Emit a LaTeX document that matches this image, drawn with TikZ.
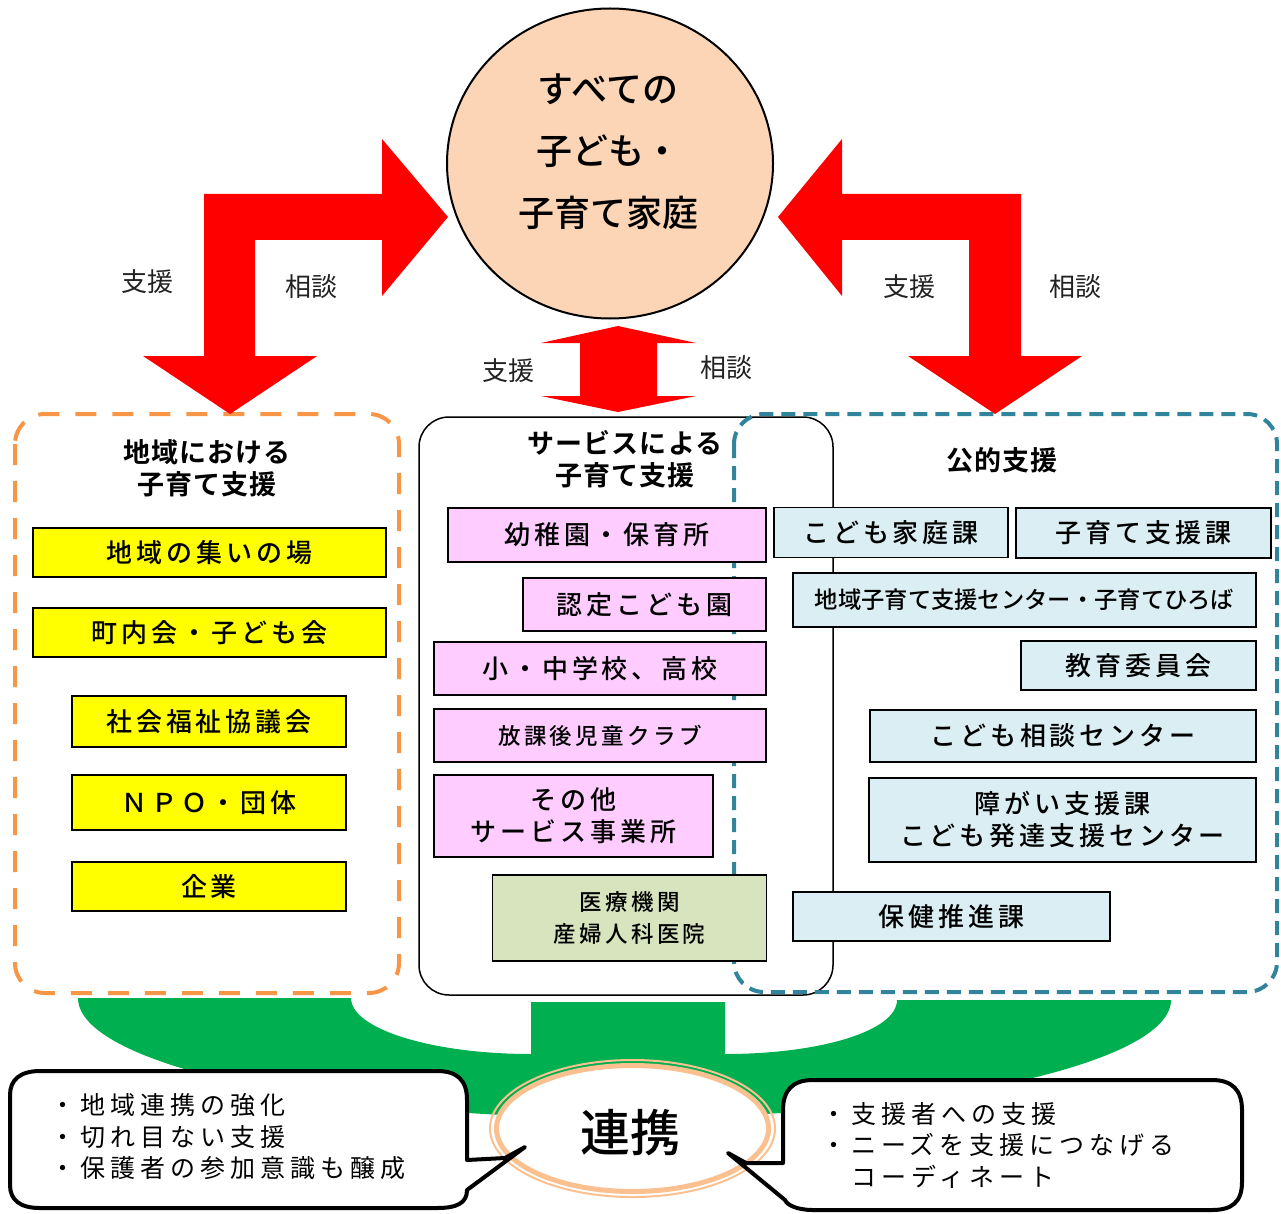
\documentclass[tikz,border=0pt]{standalone}
\usepackage{fontspec}
\usetikzlibrary{shapes.geometric}
\IfFontExistsTF{Noto Sans CJK JP Bold}{\newfontfamily\jpB{Noto Sans CJK JP Bold}[LetterSpace=4]}{\newfontfamily\jpB{Noto Sans CJK JP}[FakeBold=2,LetterSpace=4]}
\IfFontExistsTF{Noto Sans CJK JP Medium}{\newfontfamily\jpM{Noto Sans CJK JP Medium}[LetterSpace=15]\newfontfamily\jpMn{Noto Sans CJK JP Medium}}{\newfontfamily\jpM{Noto Sans CJK JP}[FakeBold=1,LetterSpace=15]\newfontfamily\jpMn{Noto Sans CJK JP}[FakeBold=1]}
\newfontfamily\jpR{Noto Sans CJK JP}
\newfontfamily\jpRs{Noto Sans CJK JP}[LetterSpace=20]
\newcommand\fsBox{\jpM\fontsize{26}{32}\selectfont}
\newcommand\fsSmall{\jpM\fontsize{22.5}{32}\selectfont}
\newcommand\fsTitle{\jpB\fontsize{27}{32}\selectfont}
\newcommand\fsCircle{\jpMn\fontsize{36}{62}\selectfont}
\newcommand\fsLabel{\jpR\fontsize{26}{30}\selectfont}
\newcommand\fsCall{\jpRs\fontsize{25}{31.5}\selectfont}
\newcommand\fsRenkei{\jpMn\fontsize{50}{60}\selectfont}
\definecolor{peach}{HTML}{FBD5B5}
\definecolor{arrowred}{HTML}{FF0000}
\definecolor{dorange}{HTML}{F79646}
\definecolor{tealbox}{HTML}{31849B}
\definecolor{ylw}{HTML}{FFFF00}
\definecolor{pinkbox}{HTML}{FFCCFF}
\definecolor{bluebox}{HTML}{DAEEF3}
\definecolor{olivebox}{HTML}{D7E4BD}
\definecolor{grn}{HTML}{00B050}
\definecolor{ringor}{HTML}{FAC090}
\definecolor{lbl}{HTML}{222222}
\tikzset{
  abox/.style={draw=black, line width=1.6, inner sep=0, align=center, font=\fsBox},
  ybox/.style={abox, fill=ylw},
  pbox/.style={abox, fill=pinkbox},
  bbox/.style={abox, fill=bluebox},
  obox/.style={abox, fill=olivebox},
  lbltext/.style={text=lbl, font=\fsLabel, inner sep=0},
  ttl/.style={font=\fsTitle, align=center, inner sep=0},
  redarrow/.style={fill=arrowred},
  callout/.style={draw=black, line width=4, fill=white, line join=round},
}
\begin{document}
\begin{tikzpicture}[x=1pt,y=-1pt]
\useasboundingbox (0,0) rectangle (1281,1214);

% green merge shape
\fill[grn] (78,998) -- (351,998)
  .. controls (351,1029) and (432,1054) .. (531,1054)
  -- (531,1002) -- (725,1002) -- (725,1054)
  .. controls (820,1054) and (897,1031) .. (897,1000)
  -- (1171,1000)
  .. controls (1171,1064) and (926,1118) .. (624.5,1118)
  .. controls (323,1118) and (78,1064) .. (78,998) -- cycle;

% region frames
\draw[dorange, line width=4, dash pattern=on 21 off 16, rounded corners=30] (15,414) rectangle (399,993);
\draw[black, line width=1.5, rounded corners=30] (419,417) rectangle (833,995);
\draw[tealbox, line width=4, dash pattern=on 14 off 8, rounded corners=30] (734,414) rectangle (1277,992);

% central circle
\node[ellipse, draw=black, line width=2, fill=peach, minimum width=326, minimum height=310, inner sep=0] (fam) at (610,163.5) {};
\node[font=\fsCircle, align=center, inner sep=0] (famtext) at (608,152) {すべての\\子ども・\\子育て家庭};

% red arrows
\fill[redarrow] (448,217) -- (382,139) -- (382,194) -- (204,194) -- (204,356) -- (143,356) -- (230,414) -- (317,356) -- (255,356) -- (255,240) -- (382,240) -- (382,296) -- cycle;
\fill[redarrow] (778,217) -- (842,139) -- (842,194) -- (1021,194) -- (1021,356) -- (1082,356) -- (995,414) -- (908,356) -- (969,356) -- (969,240) -- (842,240) -- (842,296) -- cycle;
\fill[redarrow] (618,326) -- (696,343) -- (657,343) -- (657,396) -- (696,396) -- (618,412) -- (541,396) -- (580,396) -- (580,343) -- (541,343) -- cycle;

\node[lbltext] (l1) at (147,282) {支援};
\node[lbltext] (l2) at (311,287) {相談};
\node[lbltext] (l3) at (909,287) {支援};
\node[lbltext] (l4) at (1075,287) {相談};
\node[lbltext] (l5) at (508,371) {支援};
\node[lbltext] (l6) at (726,368) {相談};

% titles
\node[ttl] (t1) at (207,468) {地域における\\子育て支援};
\node[ttl] (t2) at (625,459) {サービスによる\\子育て支援};
\node[ttl] (t3) at (1002,460) {公的支援};

% left boxes
\node[ybox, minimum width=353, minimum height=49] (y1) at (209.5,552.5) {地域の集いの場};
\node[ybox, minimum width=353, minimum height=49] (y2) at (209.5,632.5) {町内会・子ども会};
\node[ybox, minimum width=274, minimum height=51] (y3) at (209,721.5) {社会福祉協議会};
\node[ybox, minimum width=274, minimum height=55] (y4) at (209,802.5) {ＮＰＯ・団体};
\node[ybox, minimum width=274, minimum height=49] (y5) at (209,886.5) {企業};

% middle boxes
\node[pbox, minimum width=318, minimum height=54] (p1) at (607,535) {幼稚園・保育所};
\node[pbox, minimum width=243, minimum height=53] (p2) at (644.5,604.5) {認定こども園};
\node[pbox, minimum width=332, minimum height=53] (p3) at (600,668.5) {小・中学校、高校};
\node[pbox, minimum width=332, minimum height=53, font=\fsSmall] (p4) at (600,735.5) {放課後児童クラブ};
\node[pbox, minimum width=279, minimum height=82] (p5) at (573.5,816) {その他\\サービス事業所};
\node[obox, minimum width=274, minimum height=86, font=\fsSmall] (g1) at (629.5,918) {医療機関\\産婦人科医院};

% right boxes
\node[bbox, minimum width=234, minimum height=50] (b1) at (891,532.5) {こども家庭課};
\node[bbox, minimum width=255, minimum height=50] (b2) at (1143.5,533) {子育て支援課};
\node[bbox, minimum width=463, minimum height=54, font=\jpMn\fontsize{23.3}{30}\selectfont] (b3) at (1024.5,600) {地域子育て支援センター・子育てひろば};
\node[bbox, minimum width=235, minimum height=49] (b4) at (1138.5,665.5) {教育委員会};
\node[bbox, minimum width=386, minimum height=52] (b5) at (1063,736) {こども相談センター};
\node[bbox, minimum width=387, minimum height=84] (b6) at (1062.5,820) {障がい支援課\\こども発達支援センター};
\node[bbox, minimum width=317, minimum height=49] (b7) at (951.5,916.5) {保健推進課};

% renkei ellipse
\node[ellipse, draw=ringor, line width=2, minimum width=285, minimum height=137, inner sep=0] (ring) at (632.5,1128.5) {};
\node[ellipse, draw=ringor, fill=white, line width=5, minimum width=272, minimum height=126, inner sep=0] (renkei) at (632.5,1128.5) {};
\node[font=\fsRenkei, inner sep=0] (rtext) at (630,1133) {連携};

% callouts
\draw[callout] (40,1071) -- (437,1071) .. controls (457,1071) and (467,1080) .. (467,1100)
  -- (467,1160) -- (505,1158) -- (525,1147) -- (467,1190)
  .. controls (467,1203) and (457,1208) .. (437,1208) -- (40,1208)
  .. controls (20,1208) and (10,1200) .. (10,1185) -- (10,1095)
  .. controls (10,1080) and (20,1071) .. (40,1071) -- cycle;
\node[font=\fsCall, align=left, anchor=west, inner sep=0] (ct1) at (50,1137) {・地域連携の強化\\・切れ目ない支援\\・保護者の参加意識も醸成};

\draw[callout] (813,1080) -- (1212,1080) .. controls (1232,1080) and (1242,1090) .. (1242,1110)
  -- (1242,1182) .. controls (1242,1202) and (1232,1210) .. (1212,1210) -- (813,1210)
  .. controls (797,1210) and (787,1205) .. (785,1200) -- (728,1153) -- (746,1163) -- (783,1163)
  -- (783,1110) .. controls (783,1090) and (793,1080) .. (813,1080) -- cycle;
\node[font=\fsCall, align=left, anchor=west, inner sep=0] (ct2) at (821,1145) {・支援者への支援\\・ニーズを支援につなげる\\　コーディネート};
\end{tikzpicture}
\end{document}
